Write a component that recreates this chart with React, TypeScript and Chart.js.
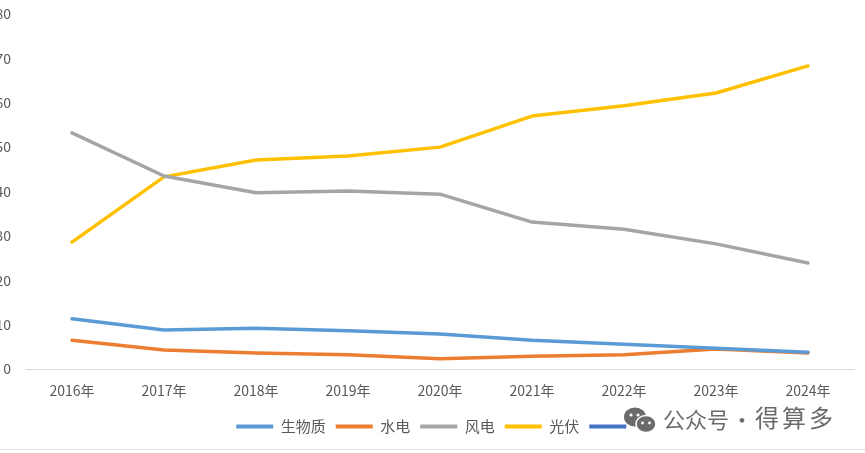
import { useEffect, useRef } from 'react';
import { Chart, registerables } from 'chart.js';
import type { Plugin } from 'chart.js';

Chart.register(...registerables);

const years = ['2016年', '2017年', '2018年', '2019年', '2020年', '2021年', '2022年', '2023年', '2024年'];

// 各类电源占比
const biomass = [11.3, 8.8, 9.2, 8.6, 7.9, 6.5, 5.6, 4.7, 3.8];
const hydro = [6.5, 4.3, 3.6, 3.2, 2.3, 2.9, 3.2, 4.5, 3.6];
const wind = [53.2, 43.5, 39.7, 40.1, 39.4, 33.1, 31.5, 28.2, 23.9];
const solar = [28.6, 43.3, 47.1, 48.0, 50.0, 57.0, 59.3, 62.2, 68.3];

const yMin = 0;
const yMax = 80;
const yStep = 10;

const tickFont = { family: '"Noto Sans CJK SC", "Noto Sans", sans-serif', size: 14 };

// nudge the legend so it centres under the plot, not the whole canvas
const legendShift: Plugin<'line'> = {
    id: 'legendShift',
    afterLayout: (chart) => {
        if (chart.legend) chart.legend.left += 16;
    },
};

const App = () => {
    const chartRef = useRef<HTMLCanvasElement | null>(null);

    useEffect(() => {
        document.body.style.margin = '0';
        const ctx = chartRef.current?.getContext('2d');
        if (!ctx) return;

        const line = (label: string, data: number[], color: string) => ({
            label,
            data,
            borderColor: color,
            backgroundColor: color,
            borderWidth: 3.5,
            borderCapStyle: 'round' as const,
            borderJoinStyle: 'round' as const,
            pointRadius: 0,
            pointHoverRadius: 0,
            tension: 0,
            fill: false,
        });

        const chart = new Chart(ctx, {
            type: 'line',
            data: {
                labels: years,
                datasets: [
                    line('生物质', biomass, '#5B9BD5'),
                    line('水电', hydro, '#ED7D31'),
                    line('风电', wind, '#A5A5A5'),
                    line('光伏', solar, '#FFC000'),
                    line('', [], '#4472C4'),
                ],
            },
            options: {
                animation: false,
                responsive: false,
                layout: { padding: { left: 0, right: 11, top: 14, bottom: 9 } },
                plugins: {
                    tooltip: { enabled: false },
                    legend: {
                        position: 'bottom',
                        labels: {
                            boxWidth: 37,
                            boxHeight: 4,
                            padding: 10,
                            color: '#595959',
                            font: { ...tickFont, size: 15 },
                            generateLabels: (c) =>
                                Chart.defaults.plugins.legend.labels.generateLabels(c).map((l) => ({
                                    ...l,
                                    fillStyle: l.strokeStyle as string,
                                    lineWidth: 0,
                                })),
                        },
                    },
                },
                scales: {
                    x: {
                        offset: true,
                        grid: { display: false, drawTicks: false },
                        border: { display: true, color: '#d9d9d9', width: 1 },
                        ticks: { color: '#595959', font: tickFont, padding: 13, maxRotation: 0 },
                        afterFit: (s) => {
                            s.height = 40;
                        },
                    },
                    y: {
                        min: yMin,
                        max: yMax,
                        grid: { display: false, drawTicks: false },
                        border: { display: false },
                        ticks: { stepSize: yStep, color: '#595959', font: tickFont, padding: 15 },
                        afterFit: (s) => {
                            s.width = 26;
                            s.paddingTop = 0;
                            s.paddingBottom = 0;
                        },
                    },
                },
            },
            plugins: [legendShift],
        });

        return () => {
            chart.destroy();
        };
    }, []);

    const markText = {
        position: 'absolute' as const,
        top: 403,
        fontFamily: '"Noto Sans CJK SC", sans-serif',
        fontSize: 22,
        lineHeight: '30px',
        color: '#6b6b6b',
        whiteSpace: 'pre' as const,
    };

    return (
        <div style={{ position: 'relative', width: 865, height: 453, overflow: 'hidden', background: '#fff' }}>
            <canvas ref={chartRef} width={865} height={453} style={{ width: 865, height: 453, display: 'block' }}></canvas>
            <svg style={{ position: 'absolute', left: 623, top: 406 }} width="34" height="28" viewBox="0 0 34 28">
                <ellipse cx="12" cy="11" rx="11" ry="9.5" fill="#6b6b6b" />
                <circle cx="8" cy="9" r="1.6" fill="#fff" />
                <circle cx="15" cy="9" r="1.6" fill="#fff" />
                <ellipse cx="23" cy="18" rx="10" ry="8.5" fill="#6b6b6b" stroke="#fff" strokeWidth="1.5" />
                <circle cx="19.5" cy="17" r="1.4" fill="#fff" />
                <circle cx="26.5" cy="17" r="1.4" fill="#fff" />
            </svg>
            <span style={{ ...markText, left: 663 }}>公众号</span>
            <span style={{ ...markText, left: 731 }}>·</span>
            <span style={{ ...markText, left: 755, top: 402, fontSize: 24, letterSpacing: 3 }}>得算多</span>
            <div style={{ position: 'absolute', left: 0, top: 449, width: 865, height: 1, background: '#e3e3e3' }}></div>
        </div>
    );
};

export default App;
